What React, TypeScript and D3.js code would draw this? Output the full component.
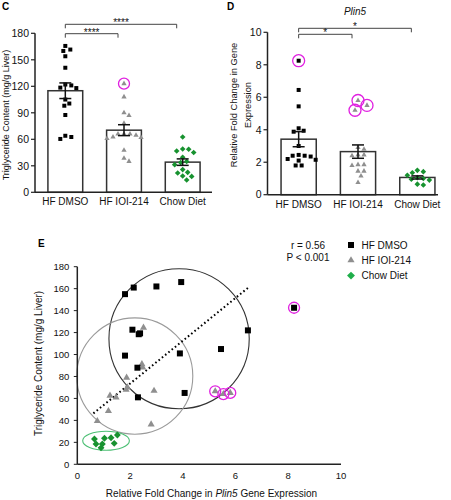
import React from 'react';
import * as d3 from 'd3';

const FONT = "'Liberation Sans', Arial, Helvetica, sans-serif";

// ---------- Data ----------
const groups = ['HF DMSO', 'HF IOI-214', 'Chow Diet'];

// Panel C: triglyceride content (mg/g liver)
const tgDmso = [165.7, 160, 161.6, 154, 141, 118.5, 122, 118, 121, 105, 100.5, 98, 87.5, 62.6, 60.4, 64];
const tgIoi = [123, 108, 90, 87, 78, 66, 66, 64.5, 66, 61, 62.5, 62, 47.5, 38.5, 35];
const tgChow = [62.6, 48.7, 49, 46.8, 45, 39.6, 33.6, 35, 31.3, 25.7, 22.6, 21.9, 18.5, 18, 14];
const tgCircled = [[], [0], []];
const cTicks = [0, 30, 60, 90, 120, 150, 180];
const cSig = [
  { from: 0, to: 2, label: '****' },
  { from: 0, to: 1, label: '****' },
];

// Panel D: Plin5 relative fold change
const plinDmso = [8.25, 6.45, 5.44, 4.09, 3.94, 3.88, 3.0, 2.4, 2.35, 2.4, 2.45, 2.2, 2.1, 2.15, 1.8, 1.8];
const plinIoi = [5.8, 5.5, 5.2, 2.9, 2.8, 2.45, 2.4, 2.45, 1.85, 1.85, 1.8, 1.45, 1.45, 1.15, 0.75];
const plinChow = [1.5, 1.42, 1.35, 1.2, 1.05, 1.0, 0.95, 0.9, 0.65, 0.6];
const plinCircled = [[0], [0, 1, 2], []];
const dTicks = [0, 2, 4, 6, 8, 10];
const dSig = [
  { from: 0, to: 2, label: '*' },
  { from: 0, to: 1, label: '*' },
];

// Panel E: scatter
const eDmsoPlin = [1.81, 2.14, 3.0, 3.94, 2.09, 2.38, 2.33, 1.81, 3.89, 5.45, 2.28, 2.30, 4.07, 8.22, 6.47];
const eDmsoTg = [155, 161, 162, 166, 122.6, 119.3, 118.5, 99, 101, 105, 88, 61, 65, 142.6, 122];
const eIoiPlin = [2.51, 2.45, 2.48, 1.87, 1.85, 1.90, 2.91, 1.24, 1.47, 1.18, 0.76, 2.80, 5.23, 5.54, 5.80];
const eIoiTg = [124.4, 91.3, 88.3, 79, 68, 70, 67, 62.5, 61, 48.5, 39.4, 36.4, 66.5, 64, 65];
const eChowPlin = [0.65, 0.71, 0.90, 0.95, 1.03, 1.28, 1.40, 1.52];
const eChowTg = [23, 18.5, 15, 18.5, 23.7, 24.2, 19.1, 26.7];
const eDmsoCircled = [13];
const eIoiCircled = [12, 13, 14];
const eXTicks = [0, 2, 4, 6, 8, 10];
const eYTicks = [0, 20, 40, 60, 80, 100, 120, 140, 160, 180];
const eGroupEllipses = [
  { cx: 3.86, cy: 114.4, rx: 2.66, ry: 63.8 },
  { cx: 2.18, cy: 80.4, rx: 2.2, ry: 53 },
  { cx: 1.09, cy: 21.5, rx: 0.885, ry: 8.65 },
];
const eFit = { intercept: 34.5, slope: 19.5, x0: 0.61, x1: 6.47 };
const eStats = ['r = 0.56', 'P < 0.001'];

// ---------- Styles ----------
const GREEN = '#17922f';
const GRAY = '#8f8f8f';
const MAGENTA = '#e020e0';
const DARK = '#222';

function beeswarm(values: number[], y: (v: number) => number, radii: number[]): number[] {
  const idx = values.map((_, i) => i).sort((a, b) => values[b] - values[a]);
  const placed: { x: number; y: number; r: number }[] = [];
  const out = new Array(values.length).fill(0);
  for (const i of idx) {
    const yy = y(values[i]);
    const r = radii[i];
    for (let k = 0; k < 80; k++) {
      const off = k === 0 ? 0 : (k % 2 === 1 ? 1 : -1) * Math.ceil(k / 2);
      const ok = placed.every((p) => Math.hypot(p.x - off, p.y - yy) >= p.r + r);
      if (ok) {
        out[i] = off;
        placed.push({ x: off, y: yy, r });
        break;
      }
    }
  }
  return out;
}

const sqPath = (s: number) => d3.symbol().type(d3.symbolSquare).size(s * s)()!;
const triPath = (a: number) => d3.symbol().type(d3.symbolTriangle).size(a)()!;
const diaPath = (a: number) => d3.symbol().type((d3 as any).symbolDiamond2 || d3.symbolDiamond).size(a)()!;

type BarCfg = {
  left: number; right: number; bandLeft: number; bandRight: number;
  y0: number; y1: number; yMax: number; ticks: number[];
  data: number[][]; circled: number[][]; sig: { from: number; to: number; label: string }[];
  sigY: number[]; catY: number; circleR: number;
};

function BarPanel({ cfg }: { cfg: BarCfg }) {
  const y = d3.scaleLinear().domain([0, cfg.yMax]).range([cfg.y0, cfg.y1]);
  const x = d3.scaleBand<string>().domain(groups).range([cfg.bandLeft, cfg.bandRight]).paddingInner(0.407).paddingOuter(0.22);
  const bw = x.bandwidth();
  const shapes = [sqPath(4), triPath(12), diaPath(20)];
  const fills = ['#000', GRAY, GREEN];
  return (
    <g>
      {cfg.data.map((vals, gi) => {
        const g = groups[gi];
        const cx = x(g)! + bw / 2;
        const mean = d3.mean(vals)!;
        const sem = d3.deviation(vals)! / Math.sqrt(vals.length);
        const radii = vals.map((_, i) => (cfg.circled[gi].includes(i) ? cfg.circleR - 1 : 2.7));
        const offs = beeswarm(vals, y, radii);
        return (
          <g key={g}>
            <rect x={x(g)} y={y(mean)} width={bw} height={y(0) - y(mean)} fill="#fff" stroke="#333" strokeWidth={1.5} />
            {vals.map((v, i) => (
              <path key={i} d={shapes[gi]} transform={`translate(${cx + offs[i]},${y(v)})`} fill={fills[gi]} />
            ))}
            {cfg.circled[gi].map((i) => (
              <circle key={'c' + i} cx={cx + offs[i]} cy={y(vals[i])} r={cfg.circleR} fill="none" stroke={MAGENTA} strokeWidth={1.3} />
            ))}
            <g stroke="#111" strokeWidth={1.5}>
              <line x1={cx} x2={cx} y1={y(mean + sem)} y2={y(mean - sem)} />
              <line x1={cx - 6} x2={cx + 6} y1={y(mean + sem)} y2={y(mean + sem)} />
              <line x1={cx - 6} x2={cx + 6} y1={y(mean - sem)} y2={y(mean - sem)} />
            </g>
            <text x={cx} y={cfg.catY} textAnchor="middle" fontSize={10} fill="#111">{g}</text>
          </g>
        );
      })}
      {/* axes */}
      <line x1={cfg.left} x2={cfg.left} y1={y(cfg.yMax)} y2={y(0)} stroke={DARK} strokeWidth={1.5} />
      <line x1={cfg.left} x2={cfg.right} y1={y(0)} y2={y(0)} stroke={DARK} strokeWidth={1.5} />
      {cfg.ticks.map((t) => (
        <g key={t}>
          <line x1={cfg.left - 4} x2={cfg.left} y1={y(t)} y2={y(t)} stroke={DARK} strokeWidth={1.2} />
          <text x={cfg.left - 6} y={y(t)} dy="0.36em" textAnchor="end" fontSize={10.5} fill="#111">{t}</text>
        </g>
      ))}
      {cfg.sig.map((s, si) => {
        const xa = x(groups[s.from])! + bw / 2;
        const xb = x(groups[s.to])! + bw / 2 - 6;
        const yy = cfg.sigY[si];
        return (
          <g key={si}>
            <path d={`M${xa},${yy + 4}V${yy}H${xb}V${yy + 4}`} fill="none" stroke="#444" strokeWidth={1} />
            <text x={(xa + xb) / 2} y={yy + 2} textAnchor="middle" fontSize={10} fill="#111">{s.label}</text>
          </g>
        );
      })}
    </g>
  );
}

function ScatterPanel() {
  const x = d3.scaleLinear().domain([0, 10]).range([77.3, 341]);
  const y = d3.scaleLinear().domain([0, 180]).range([464.3, 266.7]);
  const ellipseStroke = ['#333', '#9a9a9a', '#4cbf74'];
  const fitLine = d3.line<number>().x((v) => x(v)).y((v) => y(eFit.intercept + eFit.slope * v));
  const sq = sqPath(6);
  const tri = triPath(22);
  const dia = diaPath(30);
  return (
    <g>
      {eGroupEllipses.map((e, i) => (
        <ellipse key={i} cx={x(e.cx)} cy={y(e.cy)} rx={x(e.rx) - x(0)} ry={y(0) - y(e.ry)} fill="none" stroke={ellipseStroke[i]} strokeWidth={1.1} />
      ))}
      <path d={fitLine([eFit.x0, eFit.x1])!} fill="none" stroke="#000" strokeWidth={2} strokeDasharray="1.6,2.6" />
      {eIoiPlin.map((v, i) => (
        <path key={'t' + i} d={tri} transform={`translate(${x(v)},${y(eIoiTg[i])})`} fill={GRAY} />
      ))}
      {eDmsoPlin.map((v, i) => (
        <path key={'s' + i} d={sq} transform={`translate(${x(v)},${y(eDmsoTg[i])})`} fill="#000" />
      ))}
      {eChowPlin.map((v, i) => (
        <path key={'d' + i} d={dia} transform={`translate(${x(v)},${y(eChowTg[i])})`} fill={GREEN} />
      ))}
      {eDmsoCircled.map((i) => (
        <circle key={'cd' + i} cx={x(eDmsoPlin[i])} cy={y(eDmsoTg[i])} r={5.5} fill="none" stroke={MAGENTA} strokeWidth={1.3} />
      ))}
      {eIoiCircled.map((i) => (
        <circle key={'ci' + i} cx={x(eIoiPlin[i])} cy={y(eIoiTg[i])} r={5.5} fill="none" stroke={MAGENTA} strokeWidth={1.3} />
      ))}
      {/* axes */}
      <line x1={x(0)} x2={x(0)} y1={y(180)} y2={y(0)} stroke={DARK} strokeWidth={1.5} />
      <line x1={x(0)} x2={x(10)} y1={y(0)} y2={y(0)} stroke={DARK} strokeWidth={1.5} />
      {eYTicks.map((t) => (
        <g key={'y' + t}>
          <line x1={x(0) - 3.5} x2={x(0)} y1={y(t)} y2={y(t)} stroke={DARK} strokeWidth={1} />
          <text x={x(0) - 8} y={y(t)} dy="0.36em" textAnchor="end" fontSize={9.5} fill="#111">{t}</text>
        </g>
      ))}
      {eXTicks.map((t) => (
        <text key={'x' + t} x={x(t)} y={478.5} textAnchor="middle" fontSize={9.5} fill="#111">{t}</text>
      ))}
      <text x={211.5} y={497} textAnchor="middle" fontSize={10} fill="#111">
        Relative Fold Change in <tspan fontStyle="italic">Plin5</tspan> Gene Expression
      </text>
      <text transform="translate(38.5,363.5) rotate(-90)" textAnchor="middle" dy="0.35em" fontSize={10} fill="#111">
        Triglyceride Content (mg/g Liver)
      </text>
      {eStats.map((s, i) => (
        <text key={s} x={308} y={248.5 + i * 12.5} textAnchor="middle" fontSize={10} fill="#111">{s}</text>
      ))}
      {/* legend */}
      {groups.map((g, i) => {
        const ly = 245 + i * 15.3;
        const sym = i === 0 ? sq : i === 1 ? tri : diaPath(40);
        const col = i === 0 ? '#000' : i === 1 ? GRAY : '#1fae4a';
        return (
          <g key={g}>
            <path d={sym} transform={`translate(351,${ly})`} fill={col} />
            <text x={361.5} y={ly} dy="0.36em" fontSize={10} fill="#111">{g}</text>
          </g>
        );
      })}
    </g>
  );
}

export default function App() {
  const cCfg: BarCfg = {
    left: 35, right: 212, bandLeft: 35, bandRight: 213,
    y0: 192.3, y1: 33.3, yMax: 180, ticks: cTicks,
    data: [tgDmso, tgIoi, tgChow], circled: tgCircled, sig: cSig,
    sigY: [24.3, 33.7], catY: 204.8, circleR: 5.5,
  };
  const dCfg: BarCfg = {
    left: 267.5, right: 438, bandLeft: 268, bandRight: 448,
    y0: 194.7, y1: 32.3, yMax: 10, ticks: dTicks,
    data: [plinDmso, plinIoi, plinChow], circled: plinCircled, sig: dSig,
    sigY: [28.3, 34.3], catY: 207.5, circleR: 6,
  };
  return (
    <svg width={451} height={500} style={{ position: 'absolute', left: 0, top: 0, background: '#fff' }} fontFamily={FONT}>
      <rect width={451} height={500} fill="#fff" />
      <text x={2} y={10} fontSize={10} fontWeight="bold">C</text>
      <text x={227} y={10} fontSize={10} fontWeight="bold">D</text>
      <text x={38} y={247} fontSize={10} fontWeight="bold">E</text>
      <BarPanel cfg={cCfg} />
      <text transform="translate(5.5,115) rotate(-90)" textAnchor="middle" dy="0.35em" fontSize={9} fill="#111">
        Triglyceride Content (mg/g Liver)
      </text>
      <BarPanel cfg={dCfg} />
      <text x={355} y={15} textAnchor="middle" fontSize={10} fontStyle="italic" fill="#111">Plin5</text>
      <text transform="translate(234,105) rotate(-90)" textAnchor="middle" dy="0.35em" fontSize={9.3} fill="#111">
        Relative Fold Change in Gene
      </text>
      <text transform="translate(247.5,105) rotate(-90)" textAnchor="middle" dy="0.35em" fontSize={9.3} fill="#111">
        Expression
      </text>
      <ScatterPanel />
    </svg>
  );
}
